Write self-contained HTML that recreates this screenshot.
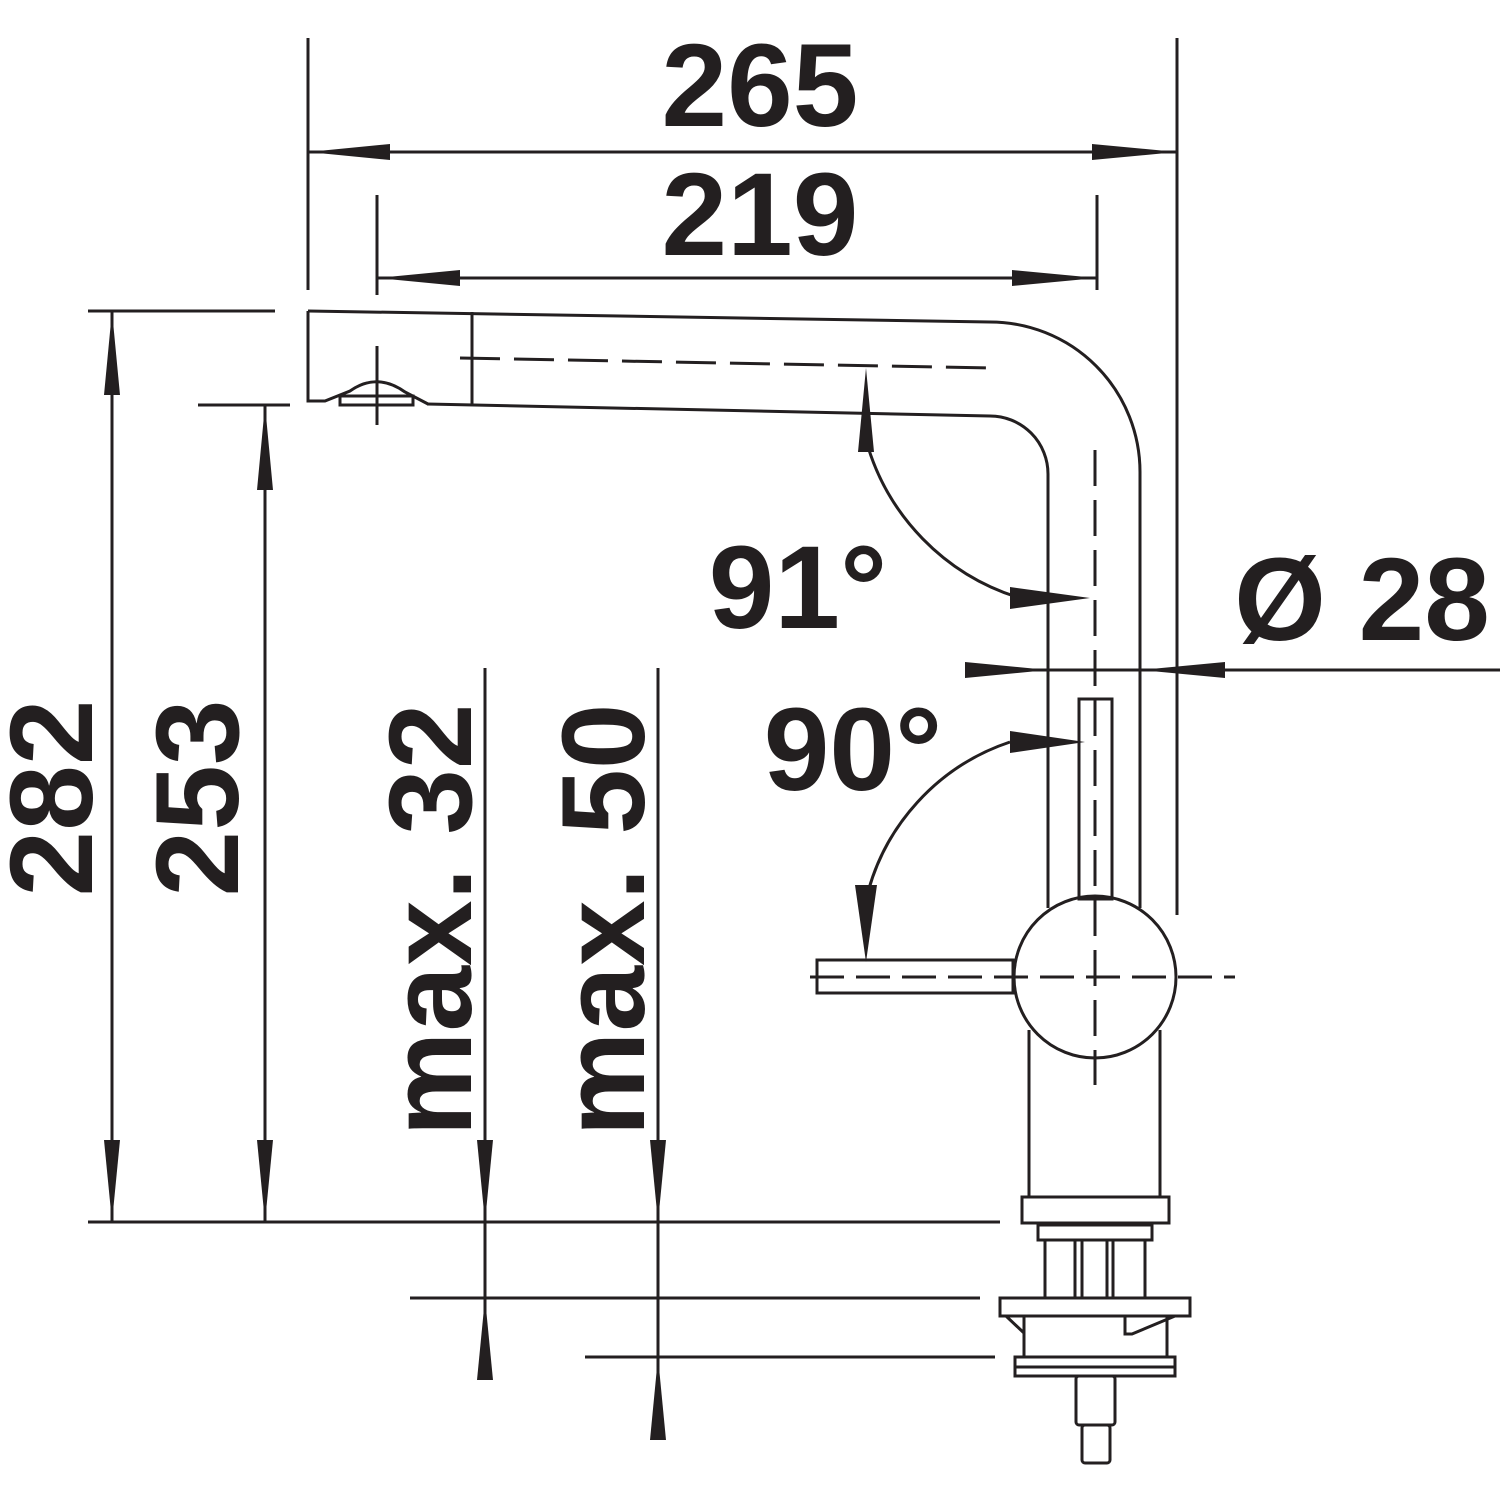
<!DOCTYPE html>
<html><head><style>body{margin:0;background:#fff;overflow:hidden}svg{display:block}</style></head><body>
<svg width="1500" height="1500" viewBox="0 0 1500 1500" xmlns="http://www.w3.org/2000/svg">
<g fill="none" stroke="#231f20" stroke-width="3">
<line x1="308" y1="38" x2="308" y2="290"/>
<line x1="1177" y1="38" x2="1177" y2="915"/>
<line x1="377" y1="195" x2="377" y2="295"/>
<line x1="1097" y1="195" x2="1097" y2="290"/>
<line x1="308" y1="152" x2="1177" y2="152"/>
<line x1="377" y1="278" x2="1097" y2="278"/>
<line x1="88" y1="311" x2="275" y2="311"/>
<line x1="198" y1="405" x2="290" y2="405"/>
<line x1="88" y1="1222" x2="1000" y2="1222"/>
<line x1="112" y1="311" x2="112" y2="1222"/>
<line x1="265" y1="405" x2="265" y2="1222"/>
<line x1="485" y1="668" x2="485" y2="1380"/>
<line x1="658" y1="668" x2="658" y2="1440"/>
<line x1="410" y1="1298" x2="980" y2="1298"/>
<line x1="585" y1="1357" x2="995" y2="1357"/>
<line x1="965" y1="670" x2="1500" y2="670"/>
<path d="M308 311 L990 322 A150 150 0 0 1 1140 472 L1140 908"/>
<path d="M427 404 L990 416 A58 58 0 0 1 1048 474 L1048 908"/>
<path d="M308 311 L308 401 L325 401 L350 391 Q377 372 405 392 L428 404"/>
<rect x="340" y="396" width="73" height="9"/>
<line x1="472" y1="312" x2="472" y2="404"/>
<line x1="377" y1="346" x2="377" y2="425"/>
<path d="M460 358 L990 368" stroke-dasharray="40,14"/>
<line x1="1095" y1="450" x2="1095" y2="1085" stroke-dasharray="36,14"/>
<rect x="1079" y="699" width="33" height="200"/>
<circle cx="1095" cy="977" r="81"/>
<rect x="817" y="960" width="196" height="33"/>
<line x1="810" y1="977" x2="1235" y2="977" stroke-dasharray="34,12"/>
<line x1="1029" y1="1030" x2="1029" y2="1197"/>
<line x1="1160" y1="1030" x2="1160" y2="1197"/>
<rect x="1022" y="1197" width="147" height="26"/>
<rect x="1038" y="1225" width="114" height="15"/>
<line x1="1045" y1="1240" x2="1045" y2="1298"/>
<line x1="1145" y1="1240" x2="1145" y2="1298"/>
<line x1="1075" y1="1240" x2="1075" y2="1298"/>
<line x1="1082" y1="1240" x2="1082" y2="1298"/>
<line x1="1107" y1="1240" x2="1107" y2="1298"/>
<line x1="1113" y1="1240" x2="1113" y2="1298"/>
<rect x="1000" y="1298" width="190" height="18"/>
<line x1="1024" y1="1316" x2="1024" y2="1357"/>
<line x1="1167" y1="1316" x2="1167" y2="1357"/>
<path d="M1006 1316 L1024 1333"/>
<path d="M1125 1316 L1125 1334 L1132 1334 L1175 1316"/>
<rect x="1015" y="1357" width="160" height="19"/>
<line x1="1015" y1="1367" x2="1175" y2="1367"/>
<rect x="1076" y="1376" width="39" height="49" rx="3"/>
<rect x="1082" y="1425" width="28" height="38" rx="3"/>
<path d="M866 440 A229 229 0 0 0 1020 598"/>
<path d="M1010 742 A219 219 0 0 0 866 900"/>
</g>
<g fill="#231f20">
<polygon points="308,152 390,144 390,160"/>
<polygon points="1177,152 1092,144 1092,160"/>
<polygon points="377,278 460,270 460,286"/>
<polygon points="1097,278 1012,270 1012,286"/>
<polygon points="112,311 104,395 120,395"/>
<polygon points="112,1222 104,1140 120,1140"/>
<polygon points="265,405 257,490 273,490"/>
<polygon points="265,1222 257,1140 273,1140"/>
<polygon points="485,1222 477,1140 493,1140"/>
<polygon points="485,1298 477,1380 493,1380"/>
<polygon points="658,1222 650,1140 666,1140"/>
<polygon points="658,1357 650,1440 666,1440"/>
<polygon points="1048,670 965,662 965,678"/>
<polygon points="1140,670 1225,662 1225,678"/>
<polygon points="866,368 858,452 874,452"/>
<polygon points="1090,598 1010,587 1010,609"/>
<polygon points="1085,742 1010,731 1010,753"/>
<polygon points="866,962 855,885 877,885"/>
</g>
<g font-family="Liberation Sans, sans-serif" font-weight="bold" font-size="118" fill="#231f20">
<text x="760" y="126" text-anchor="middle">265</text>
<text x="760" y="255" text-anchor="middle">219</text>
<text x="798" y="628" text-anchor="middle">91°</text>
<text x="853" y="790" text-anchor="middle">90°</text>
<text x="1362" y="640" text-anchor="middle">Ø 28</text>
<text transform="translate(92,798) rotate(-90)" text-anchor="middle">282</text>
<text transform="translate(238,798) rotate(-90)" text-anchor="middle">253</text>
<text transform="translate(471,920) rotate(-90)" text-anchor="middle">max. 32</text>
<text transform="translate(644,920) rotate(-90)" text-anchor="middle">max. 50</text>
</g>
</svg>
</body></html>
